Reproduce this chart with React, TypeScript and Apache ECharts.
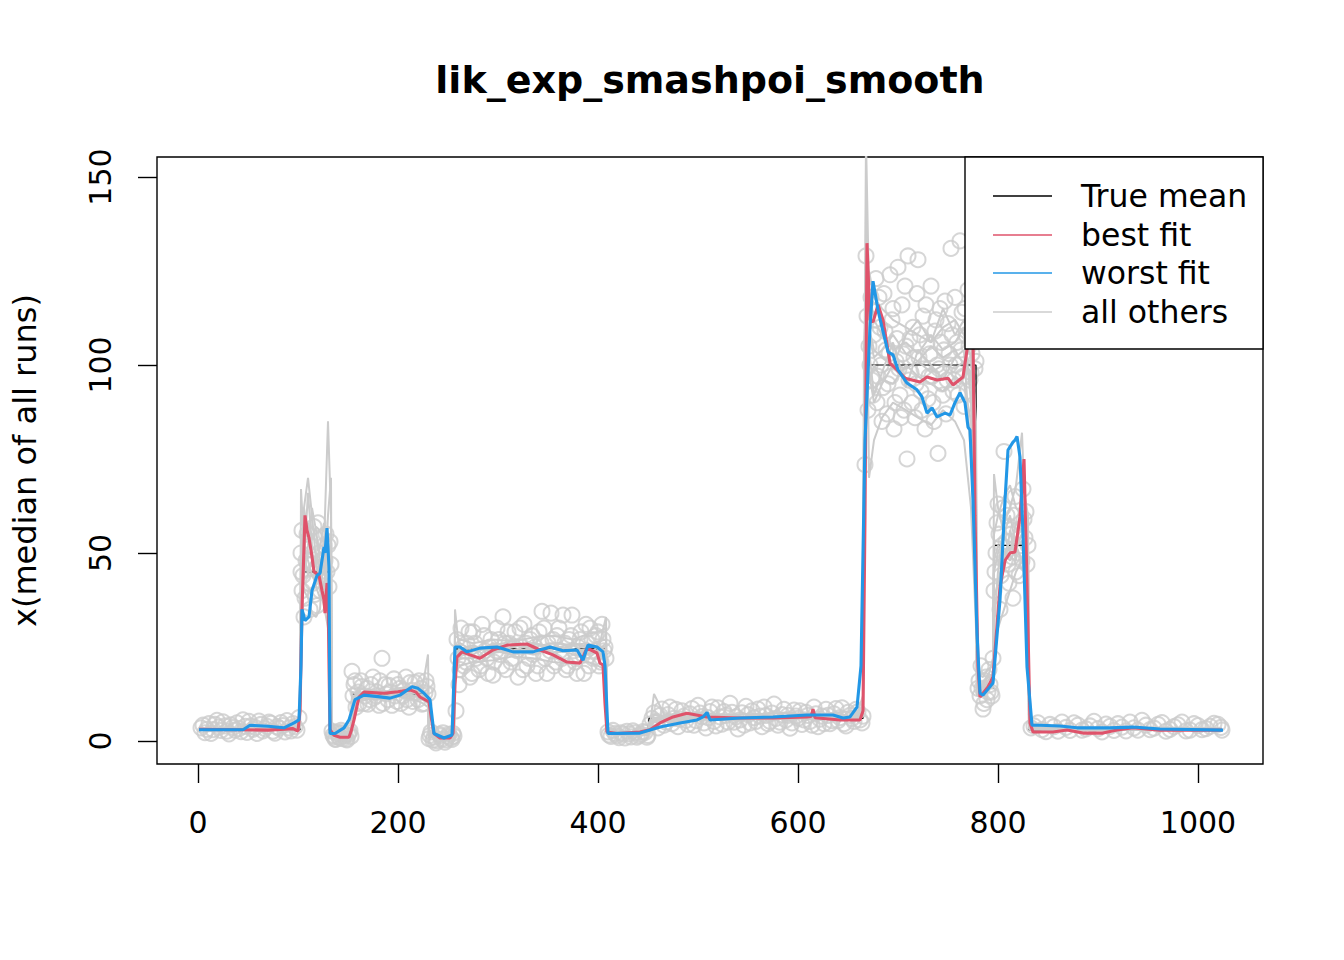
import { useEffect, useRef } from "react";
import * as echarts from "echarts";

const FONT = "DejaVu Sans";

// true mean: piecewise constant
const segStart = [1, 103, 134, 154, 231, 257, 409, 451, 666, 779, 796, 831];
const segEnd = [102, 133, 153, 230, 256, 408, 450, 665, 778, 795, 830, 1024];
const segLevel = [3, 45, 1.5, 12.5, 1, 24.5, 2, 6, 100, 14, 52, 3];

const bestFit: [number, number][] = [
    [1, 3.1], [40, 3.0], [70, 2.9], [95, 3.3], [100, 2.6], [102, 8], [104, 35], [107, 60], [109, 56],
    [111, 54], [114, 49], [116, 45], [121, 44], [124, 40], [126, 37.5], [127, 34], [129, 42], [130, 40],
    [131, 20], [132, 3], [136, 1.5], [142, 1.0], [151, 1.0], [153, 2.5], [156, 5.6], [161, 11.7], [166, 13],
    [186, 12.7], [200, 13.1], [212, 13.6], [218, 13], [222, 11.7], [231, 10.4], [234, 5], [236, 2], [242, 0.8],
    [252, 0.8], [255, 2], [257, 15], [259, 22.3], [264, 23.7], [272, 22.9], [282, 22], [295, 24.2], [309, 25.5],
    [329, 25.8], [342, 24.2], [355, 22.9], [369, 21], [382, 20.7], [389, 24.7], [399, 23.4], [402, 20.7],
    [405, 20.2], [407, 10], [409, 2.4], [419, 2], [442, 2.4], [452, 3], [462, 4.8], [475, 6.4], [489, 7.4],
    [509, 6.4], [542, 6.1], [575, 6.1], [609, 6.4], [613, 6.5], [615, 8.5], [617, 6.2], [642, 5.6], [662, 5.6],
    [665, 8], [667, 60], [669, 132.4], [672, 112], [675, 111.4], [680, 116], [685, 112], [692, 100.5],
    [699, 98.7], [707, 96.5], [722, 95.5], [729, 96.8], [739, 96], [750, 96.5], [755, 94.7], [765, 96.8],
    [769, 104], [773, 110], [775, 108], [777, 60], [780, 20], [782, 11.7], [790, 14.4], [795, 17], [802, 41],
    [807, 48], [812, 50], [817, 50.3], [822, 59.6], [826, 75], [829, 42], [832, 4.8], [835, 2.4], [855, 2.4],
    [869, 2.9], [885, 2.1], [905, 2.1], [919, 2.9], [935, 3.5], [962, 2.9], [995, 2.9], [1024, 2.9],
];

const worstFit: [number, number][] = [
    [1, 3], [45, 3], [52, 4.2], [70, 3.9], [86, 3.5], [96, 4.8], [101, 5.6], [103, 20], [104, 35], [107, 32],
    [111, 33], [114, 40], [119, 44], [122, 44.6], [126, 51.6], [127, 50], [129, 56.6], [131, 46], [132, 2],
    [137, 2], [146, 3.5], [151, 5.6], [157, 11], [166, 12.2], [180, 11.8], [192, 11.4], [202, 12.2], [214, 14.4],
    [220, 14], [226, 12.7], [232, 11], [236, 2], [246, 0.8], [254, 1.6], [257, 25], [262, 25], [269, 23.7],
    [282, 24.7], [299, 25], [315, 23.7], [335, 23.7], [352, 25], [365, 24], [379, 24.2], [385, 21.5], [390, 25.5],
    [399, 25], [405, 23.7], [407, 20], [410, 2], [442, 2.1], [462, 3.7], [482, 4.8], [499, 5.6], [505, 6.4],
    [509, 7.6], [512, 5.6], [542, 6.1], [575, 6.4], [609, 6.9], [635, 6.9], [645, 6.1], [652, 6.4], [659, 9],
    [663, 20], [667, 80], [672, 110], [675, 122.3], [680, 114.6], [684, 110], [690, 103.5], [695, 102.7],
    [700, 98.7], [709, 95.2], [719, 93.4], [724, 91.5], [729, 87.2], [734, 88.6], [739, 86.2], [747, 87.2],
    [752, 86.7], [757, 90], [762, 92.6], [767, 90], [770, 83.5], [772, 82.7], [775, 64], [779, 28.7], [782, 12.7],
    [785, 12.2], [795, 15.4], [802, 37.5], [807, 64], [810, 77.4], [815, 79.5], [817, 80], [819, 81], [822, 75.5],
    [825, 55], [829, 19.7], [834, 4.2], [842, 4.2], [862, 4], [879, 3.5], [912, 3.5], [935, 3.7], [962, 3.2],
    [1025, 2.9],
];

// x grid shared by the other runs
const otherX = [
    1, 30, 60, 90, 100, 102,
    103, 106, 110, 114, 118, 122, 126, 130, 133,
    134, 140, 147, 153,
    154, 160, 170, 185, 200, 215, 225, 230,
    231, 240, 250, 256,
    257, 262, 275, 295, 315, 335, 355, 375, 390, 400, 408,
    409, 420, 440, 450,
    451, 456, 470, 500, 530, 560, 590, 620, 645, 660, 665,
    666, 668, 671, 676, 684, 695, 708, 720, 733, 745, 757, 766, 773, 778,
    779, 785, 790, 795,
    796, 800, 806, 812, 818, 824, 830,
    831, 850, 900, 960, 1024,
];

const run1 = [
    3.2, 3.0, 3.4, 3.1, 3.5, 4,
    67, 52, 48, 44, 42, 46, 50, 40, 30,
    3, 1.5, 1.2, 1.8,
    9, 12.5, 12, 12.8, 13, 12.2, 11, 10,
    2, 1, 0.8, 1.2,
    24, 23, 24.5, 25, 24, 24.5, 23.5, 24, 24.5, 23, 22,
    2.5, 2, 2, 2.2,
    3, 5, 6, 6.5, 6, 6.2, 6, 6.3, 6, 6.5, 8,
    60, 95, 110, 104, 102, 100, 99, 101, 98, 100, 99, 101, 98, 60,
    14, 14, 15, 16,
    38, 42, 50, 53, 52, 55, 48,
    4, 3, 3.2, 3, 3,
];
const run2 = [
    3, 3.5, 3, 3.3, 3, 3.5,
    30, 62, 70, 60, 48, 40, 36, 30, 25,
    2.5, 2, 1, 1.5,
    7, 11, 11.5, 12, 12.5, 13.5, 15, 23,
    3, 1.2, 1, 1.5,
    35, 22, 22, 23.5, 25, 26, 25, 23, 22, 24, 33,
    3, 1.8, 1.7, 2,
    2.5, 12.5, 5, 5.5, 6.5, 6, 5.8, 6.5, 7, 6, 7,
    80, 160, 120, 112, 108, 104, 106, 103, 108, 104, 106, 110, 90, 40,
    16, 15, 17, 22,
    30, 45, 58, 62, 68, 82, 40,
    3.5, 3.4, 3, 3.2, 3.1,
];
const run3 = [
    2.8, 3.2, 3.6, 3.4, 4, 6,
    45, 40, 38, 34, 33, 35, 52, 85, 60,
    5, 1.2, 1.5, 2.2,
    6, 10.5, 11, 11.5, 11.8, 11.2, 10, 9,
    1.5, 0.5, 0.4, 0.8,
    18, 20, 21, 21.5, 22.5, 22, 21, 20.5, 21, 20, 19,
    1.8, 1.6, 1.5, 1.7,
    2, 4, 5.5, 6, 5.5, 5.8, 6.3, 5.8, 6, 6.2, 9,
    50, 142, 70, 80, 86, 90, 88, 86, 84, 88, 85, 80, 62, 30,
    12, 13, 14, 15,
    28, 30, 35, 40, 45, 48, 38,
    4.5, 3, 2.8, 3.3, 3,
];
const run4 = [
    3.5, 2.8, 3.2, 3.8, 5, 10,
    50, 55, 58, 54, 57, 56, 53, 55, 45,
    2, 1.8, 1.4, 1.2,
    10, 14, 13.5, 13, 14, 14.5, 13, 12,
    2.5, 1.4, 1.3, 2,
    28, 27, 26, 27, 26.5, 27.5, 28, 27, 28.5, 29, 30,
    3.5, 2.2, 2.4, 2.6,
    4, 6, 7, 7.5, 7, 7.2, 7.5, 7, 7.8, 8, 12,
    90, 120, 125, 118, 115, 112, 110, 108, 106, 110, 112, 108, 102, 70,
    18, 17, 19, 20,
    55, 60, 65, 68, 62, 60, 52,
    5, 3.8, 3.5, 3.6, 3.4,
];
const run5 = [
    3, 3.3, 2.9, 3, 3.2, 5,
    40, 62, 55, 50, 47, 52, 58, 48, 26,
    1.5, 1, 1.8, 2.5,
    8, 12, 12.5, 11, 12, 13, 11.5, 12,
    1.8, 0.8, 0.6, 1,
    22, 24, 25, 24, 23, 25, 26, 25.5, 23, 25, 24,
    2.2, 1.9, 2.1, 2.3,
    3.5, 5.5, 6.5, 7, 6.2, 6.5, 6.8, 6, 6.5, 7, 10,
    75, 100, 95, 100, 96, 95, 100, 97, 95, 93, 97, 95, 85, 50,
    13, 15, 18, 17,
    71, 62, 55, 50, 58, 56, 45,
    3.8, 3.2, 3.3, 3, 3.2,
];
const run6 = [
    3.1, 2.9, 3.1, 3.5, 4.2, 8,
    25, 48, 66, 52, 50, 45, 38, 60, 70,
    3.5, 1.3, 0.9, 2,
    11, 13, 12, 13.5, 12.2, 11.8, 12.5, 14,
    2.2, 1.1, 0.9, 1.4,
    26, 25, 23, 26, 24, 23, 24.5, 26, 25, 26.5, 27,
    2.8, 2.3, 1.8, 2.1,
    3.2, 7, 6, 6.8, 5.8, 6.8, 6.2, 6.6, 6.4, 7.4, 9,
    95, 130, 104, 92, 98, 106, 94, 104, 100, 96, 102, 104, 75, 55,
    15, 13, 16, 18,
    50, 48, 45, 56, 48, 70, 60,
    4, 3.3, 3.1, 3.4, 3.2,
];
const run7 = [
    2.9, 3.4, 3.1, 2.8, 3.6, 4.5,
    55, 50, 44, 48, 41, 38, 42, 47, 52,
    2.8, 1.6, 1.1, 1.4,
    12, 11.8, 12.6, 13.2, 12.4, 12.9, 12.1, 11.5,
    1.2, 0.7, 1.0, 1.1,
    25, 26, 24, 25.5, 26.5, 24, 23.5, 25.5, 26, 24.5, 25,
    1.9, 2.1, 1.8, 2.0,
    5, 6.2, 5.8, 6.4, 6.6, 5.9, 6.2, 6.5, 6.1, 6.4, 7,
    105, 115, 108, 102, 104, 108, 103, 101, 105, 102, 104, 100, 96, 80,
    14, 15, 14, 14,
    48, 52, 50, 48, 51, 55, 54,
    3.2, 2.9, 3.1, 3.2, 3.0,
];
const run8 = [
    3.3, 3.1, 2.7, 3.2, 3.0, 3.8,
    35, 44, 52, 62, 56, 48, 44, 50, 45,
    1.8, 2.2, 1.6, 1.0,
    13, 12.4, 13.8, 12.5, 13.6, 12.8, 13.5, 12,
    0.9, 1.5, 1.2, 0.7,
    23, 24.5, 25.5, 23.5, 24, 26, 25, 24.5, 23, 24, 26,
    2.1, 2.4, 1.9, 1.6,
    4.5, 5.8, 6.4, 5.6, 6.8, 6.1, 5.8, 6.9, 6.2, 5.9, 6.5,
    85, 110, 98, 90, 95, 100, 108, 112, 106, 115, 108, 112, 105, 85,
    16, 14, 13, 16,
    45, 50, 55, 60, 52, 48, 50,
    3.6, 3.1, 3.4, 2.9, 3.3,
];
const otherRuns = [run1, run2, run3, run4, run5, run6, run7, run8];

// observed points (all runs)
const observed: [number, number][] = [
    [3, 3.5], [5, 4.2], [7, 2.2], [9, 3.1], [11, 4.6], [13, 2.0], [15, 3.0], [17, 4.4], [19, 5.5], [21, 3.7],
    [23, 2.8], [25, 5.1], [27, 4.0], [29, 2.6], [31, 1.9], [33, 4.3], [35, 3.6], [37, 2.9], [39, 4.8], [41, 3.3],
    [43, 2.5], [45, 5.6], [47, 3.9], [49, 2.3], [51, 5.2], [53, 4.0], [55, 3.1], [57, 3.6], [59, 2.0], [61, 5.3],
    [63, 4.4], [65, 2.7], [67, 3.3], [69, 3.9], [71, 5.0], [73, 4.7], [75, 2.6], [77, 2.1], [79, 3.8], [81, 3.4],
    [83, 4.9], [85, 4.1], [87, 2.4], [89, 5.4], [91, 3.5], [93, 2.7], [95, 4.6], [97, 3.8], [99, 2.9], [101, 6.2],
    [103, 50], [103, 45], [104, 40], [104, 56], [105, 44], [106, 33], [107, 38], [108, 48], [109, 55], [110, 47],
    [111, 42], [112, 35], [113, 52], [114, 47], [115, 42], [116, 57], [117, 39], [118, 46], [119, 36], [120, 58],
    [121, 50], [122, 40], [123, 48], [124, 54], [125, 44], [126, 52], [127, 48], [128, 55], [129, 45], [130, 52],
    [131, 41], [132, 53], [133, 47],
    [134, 2.6], [135, 1.5], [136, 1.1], [137, 0.5], [138, 0.4], [139, 2.4], [140, 1.9], [141, 1.0], [142, 0.8],
    [143, 2.8], [144, 2.2], [145, 0.6], [146, 1.3], [147, 1.8], [148, 0.5], [149, 0.3], [150, 1.6], [151, 2.2],
    [152, 2.7], [153, 1.2],
    [154, 18.5], [155, 12], [156, 15], [157, 16], [158, 9], [160, 13], [161, 10], [163, 16], [164, 14.5],
    [166, 10], [167, 12], [169, 14], [170, 9.8], [172, 11], [173, 15], [175, 17], [176, 11.5], [178, 12],
    [179, 13], [181, 9.5], [182, 16], [184, 22], [185, 10], [187, 15], [188, 12.5], [190, 11], [191, 14.8],
    [193, 13], [194, 9.5], [196, 16.5], [197, 12], [199, 10.5], [200, 15], [202, 14], [203, 10], [205, 12],
    [206, 13.5], [208, 17], [209, 11], [211, 9], [212, 15.5], [214, 13.5], [215, 10.5], [217, 15.5], [218, 12.8],
    [220, 11], [221, 16], [223, 14], [224, 9.8], [226, 10], [227, 12.8], [228, 16], [229, 14.5], [230, 12.5],
    [231, 0.6], [232, 1.5], [233, 2.4], [235, 0.2], [236, 1.0], [238, -0.5], [239, 0.1], [241, 1.8], [242, 1.4],
    [244, 0.5], [245, 2.2], [247, -0.3], [248, 0.3], [250, 1.2], [251, 1.8], [253, 0.8], [254, 0.4], [255, 2.0],
    [256, 1.3],
    [258, 8], [259, 27], [260, 22], [261, 15], [262, 19], [263, 30], [265, 25], [266, 20], [268, 21], [269, 26],
    [271, 29], [272, 17], [274, 18], [275, 29], [277, 26], [278, 22], [280, 23], [281, 19], [283, 20], [284, 31],
    [286, 28], [287, 24], [289, 22], [290, 18], [292, 25], [293, 27], [295, 17.5], [296, 21], [298, 24], [299, 30],
    [301, 27], [302, 23], [304, 20], [305, 33], [307, 26], [308, 19], [310, 29], [311, 26], [313, 21], [314, 22],
    [316, 25], [317, 29], [319, 24], [320, 17], [322, 30], [323, 25], [325, 19], [326, 31], [328, 26], [329, 20],
    [331, 22], [332, 27], [334, 28], [335, 23], [337, 25], [338, 18], [340, 20], [341, 29], [343, 26], [344, 34.5],
    [346, 30], [347, 22], [349, 18], [350, 26], [352, 24], [353, 34], [355, 27], [356, 20], [358, 21], [359, 28],
    [361, 30], [362, 24], [364, 22], [365, 33.5], [367, 26], [368, 19], [370, 20], [371, 27], [373, 28],
    [374, 33.5], [376, 24], [377, 21], [379, 18], [380, 25], [382, 27], [383, 29], [385, 23], [386, 18], [388, 31],
    [389, 26], [391, 20], [392, 30], [394, 27], [395, 22], [397, 24], [398, 28], [400, 29], [401, 20], [403, 21],
    [404, 31], [405, 27], [406, 24], [407, 25], [408, 22],
    [410, 2.4], [411, 1.6], [413, 1.2], [415, 2.8], [417, 2.0], [419, 1.4], [421, 0.9], [423, 2.2], [425, 1.8],
    [427, 0.8], [429, 2.6], [431, 1.9], [433, 1.1], [435, 2.7], [437, 2.2], [439, 1.0], [441, 1.4], [443, 1.8],
    [445, 2.5], [447, 2.3], [449, 1.0], [450, 1.5],
    [452, 4.5], [454, 6], [456, 7.5], [458, 5.2], [460, 3.5], [462, 6.8], [464, 8.5], [466, 4.2], [468, 5],
    [470, 7], [472, 9], [474, 4.6], [476, 6], [478, 8.4], [480, 3.8], [482, 5.8], [484, 8], [486, 6.6], [488, 5.5],
    [490, 4.4], [492, 7.2], [494, 8.6], [496, 4.2], [498, 5.4], [500, 9.5], [502, 7.4], [504, 6.5], [506, 4.8],
    [508, 3.5], [510, 6.2], [512, 7.8], [514, 9], [516, 5.2], [518, 4], [520, 8.8], [522, 6.4], [524, 4.5],
    [526, 7.8], [528, 6.8], [530, 5], [532, 10], [534, 7.6], [536, 5], [538, 6.4], [540, 3.2], [542, 5.6],
    [544, 7.5], [546, 4.2], [548, 9.2], [550, 7], [552, 4.8], [554, 8], [556, 6.2], [558, 5.2], [560, 8.5],
    [562, 6.6], [564, 3.8], [566, 9], [568, 6.8], [570, 4.6], [572, 5.2], [574, 7.4], [576, 9.8], [578, 6],
    [580, 4.2], [582, 5], [584, 7], [586, 8.4], [588, 5.6], [590, 6.8], [592, 3.4], [594, 4.8], [596, 8.2],
    [598, 6.6], [600, 6], [602, 8], [604, 4.4], [606, 5.6], [608, 7.6], [610, 6.8], [612, 5.2], [614, 4.2],
    [616, 9], [618, 7.2], [620, 3.8], [622, 5.8], [624, 6.6], [626, 4.6], [628, 8.4], [630, 6.8], [632, 4.6],
    [634, 5.4], [636, 7.2], [638, 8.6], [640, 5.4], [642, 6.2], [644, 8.8], [646, 4.6], [648, 4], [650, 7.6],
    [652, 6.8], [654, 6], [656, 5.2], [658, 8.4], [660, 7.8], [662, 5.6], [664, 4.8], [665, 6.6],
    [667, 73.5], [668, 129], [669, 113], [670, 88], [671, 105], [672, 100], [673, 118], [674, 96], [675, 92],
    [676, 108], [677, 112], [678, 123], [679, 90], [680, 97], [681, 118], [682, 110], [683, 100], [684, 85],
    [685, 94], [686, 119], [687, 109], [688, 104], [689, 87], [690, 95], [691, 103], [692, 124], [693, 97],
    [694, 112], [695, 115], [696, 83], [697, 90], [698, 101], [699, 107], [700, 126], [701, 99], [702, 92],
    [703, 86], [704, 116], [705, 103], [706, 88], [707, 121], [708, 105], [709, 75], [710, 129], [711, 96],
    [712, 107], [713, 98], [714, 90], [715, 110], [716, 102], [717, 86], [718, 95], [719, 119], [720, 128],
    [721, 102], [722, 108], [723, 93], [724, 88], [725, 113], [726, 99], [727, 83], [728, 116], [729, 106],
    [730, 91], [731, 97], [732, 103], [733, 121], [734, 97], [735, 90], [736, 85], [737, 109], [738, 112],
    [739, 100], [740, 76.5], [741, 99], [742, 115], [743, 106], [744, 95], [745, 92], [746, 104], [747, 117],
    [748, 87], [749, 96], [750, 111], [751, 103], [752, 100], [753, 131], [754, 108], [755, 93], [756, 96],
    [757, 118], [758, 100], [759, 106], [760, 92], [761, 98], [762, 133], [763, 104], [764, 114], [765, 97],
    [766, 89], [767, 115], [768, 108], [769, 93], [770, 120], [771, 105], [772, 96], [773, 98], [774, 103],
    [775, 110], [776, 112], [777, 99], [778, 101], [779, 107],
    [780, 14], [781, 16], [782, 12], [783, 20], [784, 14], [785, 8.5], [786, 10], [787, 16], [788, 17], [789, 11],
    [790, 13], [791, 19], [792, 15], [793, 13], [794, 12], [795, 22],
    [796, 40], [797, 45], [798, 50], [799, 58], [800, 63], [801, 55], [802, 35], [803, 44], [804, 52], [805, 62],
    [806, 77], [807, 48], [808, 53], [809, 60], [810, 47], [811, 42], [812, 57], [813, 55], [814, 49], [815, 38],
    [816, 60], [817, 65], [818, 45], [819, 50], [820, 56], [821, 44], [822, 51], [823, 58], [824, 48], [825, 67],
    [826, 59], [827, 54], [828, 61], [829, 47], [830, 52],
    [833, 3.5], [836, 4.0], [840, 4.8], [844, 3.0], [848, 2.5], [852, 4.4], [856, 3.8], [860, 2.6], [864, 5],
    [868, 3.6], [872, 2.8], [876, 4.8], [880, 4.2], [884, 2.9], [888, 3.2], [892, 4.0], [896, 5.2], [900, 3.3],
    [904, 2.4], [908, 4.5], [912, 3.9], [916, 2.8], [920, 4.6], [924, 3.7], [928, 2.7], [932, 5.0], [936, 3.5],
    [940, 2.9], [944, 5.5], [948, 4.2], [952, 3], [956, 3.4], [960, 4.4], [964, 4.9], [968, 2.6], [972, 3.1],
    [976, 3.8], [980, 4.3], [984, 5], [988, 2.7], [992, 2.9], [996, 4.6], [1000, 4.1], [1004, 3.0], [1008, 3.3],
    [1012, 3.9], [1016, 4.7], [1020, 4.4], [1023, 3.6], [1024, 2.9],
];

const xTicks = [0, 200, 400, 600, 800, 1000];
const yTicks = [0, 50, 100, 150];

const legendLabels = ["True mean", "best fit", "worst fit", "all others"];
const legendColors = ["#000000", "#DF536B", "#2297E6", "#CCCCCC"];

function App() {
    const ref = useRef<HTMLDivElement>(null);

    useEffect(() => {
        if (!ref.current) return;
        const chart = echarts.init(ref.current, undefined, { renderer: "svg" });

        const truePts: [number, number][] = [];
        segStart.forEach((s, i) => {
            truePts.push([s, segLevel[i]]);
            truePts.push([segEnd[i], segLevel[i]]);
        });

        const legendRows = [196, 235, 273, 312];
        const legendGraphic: any[] = [
            {
                type: "rect",
                shape: { x: 965, y: 157, width: 298, height: 192 },
                style: { fill: "#fff", stroke: "#000", lineWidth: 1.4 },
                z: 100,
            },
        ];
        legendLabels.forEach((lab, i) => {
            legendGraphic.push({
                type: "line",
                shape: { x1: 993, y1: legendRows[i], x2: 1052, y2: legendRows[i] },
                style: { stroke: legendColors[i], lineWidth: 1.6 },
                z: 101,
            });
            legendGraphic.push({
                type: "text",
                x: 1081,
                y: legendRows[i],
                style: {
                    text: lab,
                    fill: "#000",
                    font: `31.5px "${FONT}"`,
                    textAlign: "left",
                    textVerticalAlign: "middle",
                },
                z: 101,
            });
        });

        chart.setOption({
            animation: false,
            backgroundColor: "#fff",
            grid: {
                left: 157,
                top: 157,
                width: 1106,
                height: 607,
                show: true,
                borderColor: "#000",
                borderWidth: 1.4,
                backgroundColor: "transparent",
            },
            xAxis: {
                type: "value",
                min: -41,
                max: 1065,
                axisLine: { show: false, onZero: false },
                splitLine: { show: false },
                axisTick: {
                    show: true,
                    inside: false,
                    length: 19,
                    customValues: xTicks,
                    lineStyle: { color: "#000", width: 1.4 },
                },
                axisLabel: {
                    customValues: xTicks,
                    formatter: (v: number) => String(v),
                    color: "#000",
                    fontFamily: FONT,
                    fontSize: 30,
                    margin: 43,
                },
            },
            yAxis: {
                type: "value",
                min: -6.12,
                max: 155.32,
                name: "x(median of all runs)",
                nameLocation: "middle",
                nameRotate: 90,
                nameGap: 116,
                nameTextStyle: { color: "#000", fontFamily: FONT, fontSize: 32 },
                axisLine: { show: false, onZero: false },
                splitLine: { show: false },
                axisTick: {
                    show: true,
                    inside: false,
                    length: 19,
                    customValues: yTicks,
                    lineStyle: { color: "#000", width: 1.4 },
                },
                axisLabel: {
                    customValues: yTicks,
                    formatter: (v: number) => String(v),
                    rotate: 90,
                    color: "#000",
                    fontFamily: FONT,
                    fontSize: 30,
                    margin: 42,
                },
            },
            graphic: [
                {
                    type: "text",
                    x: 710,
                    y: 80,
                    style: {
                        text: "lik_exp_smashpoi_smooth",
                        fill: "#000",
                        font: `bold 38px "${FONT}"`,
                        textAlign: "center",
                        textVerticalAlign: "middle",
                    },
                },
                ...legendGraphic,
            ],
            series: [
                {
                    name: "True mean",
                    type: "line",
                    data: truePts,
                    symbol: "none",
                    lineStyle: { color: "#000", width: 1.2 },
                    silent: true,
                },
                {
                    name: "observed",
                    type: "scatter",
                    data: observed,
                    symbol: "circle",
                    symbolSize: 15,
                    itemStyle: { color: "transparent", borderColor: "#CCCCCC", borderWidth: 2 },
                    silent: true,
                },
                ...otherRuns.map((run, k) => ({
                    name: "all others " + (k + 1),
                    type: "line",
                    data: otherX.map((x, i) => [x, run[i]]),
                    symbol: "none",
                    lineStyle: { color: "#CCCCCC", width: 2 },
                    silent: true,
                })),
                {
                    name: "best fit",
                    type: "line",
                    data: bestFit,
                    symbol: "none",
                    lineStyle: { color: "#DF536B", width: 3.1 },
                    silent: true,
                },
                {
                    name: "worst fit",
                    type: "line",
                    data: worstFit,
                    symbol: "none",
                    lineStyle: { color: "#2297E6", width: 3.1 },
                    silent: true,
                },
            ],
        });

        return () => {
            chart.dispose();
        };
    }, []);

    return (
        <div
            ref={ref}
            style={{ position: "absolute", left: 0, top: 0, width: "1344px", height: "960px" }}
        />
    );
}

export default App;
